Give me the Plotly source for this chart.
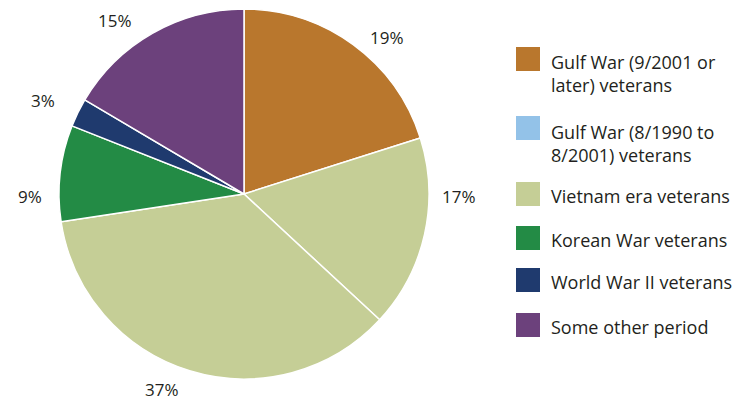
import plotly.graph_objects as go

categories = [
    "Gulf War (9/2001 or<br>later) veterans",
    "Gulf War (8/1990 to<br>8/2001) veterans",
    "Vietnam era veterans",
    "Korean War veterans",
    "World War II veterans",
    "Some other period",
]
# slice sizes (angles)
slice_values = [20.1, 16.8, 35.7, 8.4, 2.5, 16.5]
# percentage labels as printed on the chart
pct_labels = ["19%", "17%", "37%", "9%", "3%", "15%"]
# colours as drawn in the pie
slice_colors = ["#B9772D", "#C5CE96", "#C5CE96", "#238B45", "#1F3A6E", "#6C417C"]
# colours as shown in the legend
legend_colors = ["#B9772D", "#93C2E8", "#C5CE96", "#238B45", "#1F3A6E", "#6C417C"]

FONT = "Open Sans"
TEXT_COLOR = "#231F20"
W, H = 754, 400

fig = go.Figure()
fig.add_trace(go.Pie(
    labels=[c.replace("<br>", " ") for c in categories],
    values=slice_values,
    textinfo="none",
    marker=dict(colors=slice_colors, line=dict(color="white", width=1.5)),
    sort=False,
    direction="clockwise",
    rotation=0,
    showlegend=False,
    hoverinfo="skip",
    domain=dict(x=[(244 - 185) / W, (244 + 185) / W], y=[(400 - 379) / H, (400 - 9) / H]),
))

# percentage label placement (pixel centres, as in the original layout)
label_pos = [(387, 37), (459, 196), (162, 389), (30, 196), (43, 100), (115, 21)]
for (px, py), txt in zip(label_pos, pct_labels):
    fig.add_annotation(xref="paper", yref="paper", x=px / W, y=1 - py / H,
                       xanchor="center", yanchor="middle", text=txt, showarrow=False,
                       font=dict(family=FONT, size=17, color=TEXT_COLOR))

# custom legend (square swatches + text)
sq_tops = [47, 116, 182, 226, 268, 313]
sq = 24
for top, col, cat in zip(sq_tops, legend_colors, categories):
    fig.add_shape(type="rect", xref="paper", yref="paper",
                  x0=516 / W, x1=(516 + sq) / W,
                  y0=1 - (top + sq) / H, y1=1 - top / H,
                  fillcolor=col, line=dict(width=0))
    shift = 2 if "<br>" in cat else 0
    fig.add_annotation(xref="paper", yref="paper",
                       x=549 / W, y=1 - (top + sq / 2 - 12.5 + shift) / H,
                       xanchor="left", yanchor="top", align="left",
                       text=cat, showarrow=False,
                       font=dict(family=FONT, size=18, color=TEXT_COLOR))

fig.update_layout(
    width=W, height=H,
    margin=dict(l=0, r=0, t=0, b=0),
    paper_bgcolor="white",
    plot_bgcolor="white",
)

fig.write_html("out.html", config={"displayModeBar": False},
               post_script="document.body.style.margin='0';")
